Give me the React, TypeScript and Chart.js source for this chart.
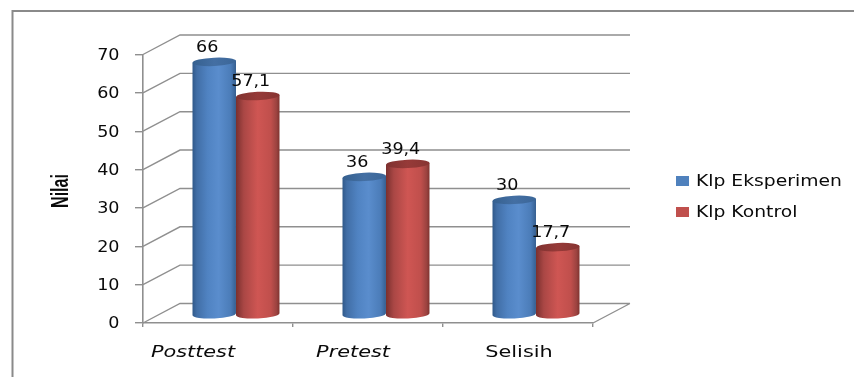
import { useEffect, useRef } from "react";
import { Chart, registerables } from "chart.js";

Chart.register(...registerables);

const categories = ["Posttest", "Pretest", "Selisih"];
const eksperimen = [66, 36, 30];
const kontrol = [57.1, 39.4, 17.7];
const seriesNames = ["Klp Eksperimen", "Klp Kontrol"];
const axisTitle = "Nilai";
const labelFonts = ["italic", "italic", "normal"];
const labelShift = [-25, -15, 1];

const FONT = "'DejaVu Sans'";
const INK = "#0a0a0a";
const GRID = "#8f8f8f";
// Depth of the pseudo-3D box and the distance of the columns into it.
const DEPTH = { x: 37, y: -19.5 };
const COLUMN = { x: 18, y: -8 };
const TILT = -0.045;

const palettes = [
  {
    swatch: "#4f81bd",
    top: ["#35608f", "#446fa3", "#3b6698"],
    stops: [[0, "#30598a"], [0.1, "#416ea6"], [0.35, "#5083c2"], [0.6, "#5a8dcd"], [0.88, "#4b7cb8"], [1, "#365f90"]],
  },
  {
    swatch: "#c0504d",
    top: ["#7f3230", "#963a38", "#873432"],
    stops: [[0, "#7a302e"], [0.18, "#aa4745"], [0.5, "#cf5653"], [0.8, "#c04f4c"], [0.93, "#9c4340"], [1, "#7f332f"]],
  },
];

type Palette = (typeof palettes)[0];

function cylinder(ctx: CanvasRenderingContext2D, cx: number, top: number, base: number, w: number, p: Palette) {
  const rx = w / 2;
  const ry = 4.2;
  const rise = rx * Math.sin(TILT);
  const g = ctx.createLinearGradient(cx - rx, 0, cx + rx, 0);
  p.stops.forEach(([s, c]) => g.addColorStop(s as number, c as string));
  ctx.fillStyle = g;
  ctx.beginPath();
  ctx.moveTo(cx - rx, top - rise);
  ctx.lineTo(cx - rx, base - rise);
  ctx.ellipse(cx, base, rx, ry, TILT, Math.PI, 0, true);
  ctx.lineTo(cx + rx, top + rise);
  ctx.closePath();
  ctx.fill();
  const cap = ctx.createLinearGradient(cx - rx, 0, cx + rx, 0);
  p.top.forEach((c, i) => cap.addColorStop(i / 2, c));
  ctx.fillStyle = cap;
  ctx.beginPath();
  ctx.ellipse(cx, top, rx, ry, TILT, 0, Math.PI * 2);
  ctx.fill();
}

// Text widened along its baseline, the way the chart's labels are set.
function wideText(ctx: CanvasRenderingContext2D, text: string, x: number, y: number, sx: number, align: CanvasTextAlign) {
  ctx.save();
  ctx.translate(x, y);
  ctx.scale(sx, 1);
  ctx.textAlign = align;
  ctx.textBaseline = "middle";
  ctx.fillText(text, 0, 0);
  ctx.restore();
}

const boxPlugin = {
  id: "box3d",
  beforeDatasetsDraw(chart: Chart) {
    const { ctx, scales } = chart;
    const x = scales.x;
    const y = scales.y;
    const left = x.left;
    const right = x.right;
    const floor = y.getPixelForValue(0);
    ctx.save();
    // Frame of the chart object: top and left edges only reach the page
    ctx.strokeStyle = "#8a8a8a";
    ctx.lineWidth = 2;
    ctx.beginPath();
    ctx.moveTo(12.5, 377);
    ctx.lineTo(12.5, 11);
    ctx.lineTo(854, 11);
    ctx.stroke();
    ctx.strokeStyle = GRID;
    ctx.lineWidth = 1.4;
    ctx.beginPath();
    for (const t of y.ticks) {
      const py = y.getPixelForValue(t.value);
      ctx.moveTo(left, py);
      ctx.lineTo(left + DEPTH.x, py + DEPTH.y);
      ctx.lineTo(right + DEPTH.x, py + DEPTH.y);
    }
    ctx.moveTo(right, floor);
    ctx.lineTo(right + DEPTH.x, floor + DEPTH.y);
    ctx.stroke();
    ctx.restore();
  },
  afterDatasetsDraw(chart: Chart) {
    const { ctx, scales } = chart;
    const metas = chart.data.datasets.map((_, i) => chart.getDatasetMeta(i));
    ctx.save();
    categories.forEach((_, c) => {
      metas.forEach((meta, s) => {
        const el: any = meta.data[c];
        cylinder(ctx, el.x + COLUMN.x, el.y + COLUMN.y, el.base + COLUMN.y, el.width, palettes[s]);
      });
    });
    ctx.fillStyle = INK;
    // Value labels above each column
    ctx.font = `15px ${FONT}`;
    metas.forEach((meta, s) => {
      meta.data.forEach((el: any, c: number) => {
        const v = chart.data.datasets[s].data[c] as number;
        wideText(ctx, String(v).replace(".", ","), el.x + COLUMN.x - 7, el.y + COLUMN.y - 13.5, 1.17, "center");
      });
    });
    // Value axis numbers
    for (const t of scales.y.ticks) {
      wideText(ctx, String(t.label), 119.5, scales.y.getPixelForValue(t.value) + 1.5, 1.17, "right");
    }
    // Category labels under the floor
    categories.forEach((name, i) => {
      ctx.font = `${labelFonts[i]} 16px ${FONT}`;
      wideText(ctx, name, scales.x.getPixelForValue(i) + labelShift[i], 353, 1.3, "center");
    });
    // Rotated axis title
    ctx.save();
    ctx.translate(62, 191);
    ctx.rotate(-Math.PI / 2);
    ctx.font = `bold 23px 'Liberation Sans'`;
    wideText(ctx, axisTitle, 0, 0, 0.7, "center");
    ctx.restore();
    // Legend to the right of the box
    ctx.font = `15px ${FONT}`;
    seriesNames.forEach((name, i) => {
      const ly = 181 + i * 31;
      ctx.fillStyle = palettes[i].swatch;
      ctx.fillRect(676, ly - 5, 13, 10);
      ctx.fillStyle = INK;
      wideText(ctx, name, 696, ly + 1, 1.25, "left");
    });
    ctx.restore();
  },
};

export default function App() {
  const ref = useRef<HTMLCanvasElement>(null);
  useEffect(() => {
    const chart = new Chart(ref.current!, {
      type: "bar",
      data: {
        labels: categories,
        datasets: [
          { label: seriesNames[0], data: eksperimen, backgroundColor: "transparent" },
          { label: seriesNames[1], data: kontrol, backgroundColor: "transparent" },
        ],
      },
      options: {
        animation: false,
        responsive: false,
        layout: { padding: { top: 54.5, right: 261, left: 0, bottom: 0 } },
        plugins: { legend: { display: false }, tooltip: { enabled: false } },
        datasets: { bar: { barPercentage: 1, categoryPercentage: 0.58 } },
        scales: {
          x: {
            afterFit: (s: any) => { s.height = 54; },
            grid: { display: true, drawOnChartArea: false, color: GRID, lineWidth: 1.4, tickLength: 4 },
            border: { color: GRID, width: 1.6 },
            ticks: { display: false },
          },
          y: {
            min: 0,
            max: 70,
            afterFit: (s: any) => { s.width = 143; },
            ticks: { stepSize: 10, display: false },
            grid: { display: true, drawOnChartArea: false, color: GRID, lineWidth: 1.4, tickLength: 8 },
            border: { color: GRID, width: 1.6 },
          },
        },
      },
      plugins: [boxPlugin],
    } as any);
    return () => chart.destroy();
  }, []);
  return <canvas ref={ref} width={854} height={377} style={{ position: "fixed", left: 0, top: 0, display: "block" }} />;
}
